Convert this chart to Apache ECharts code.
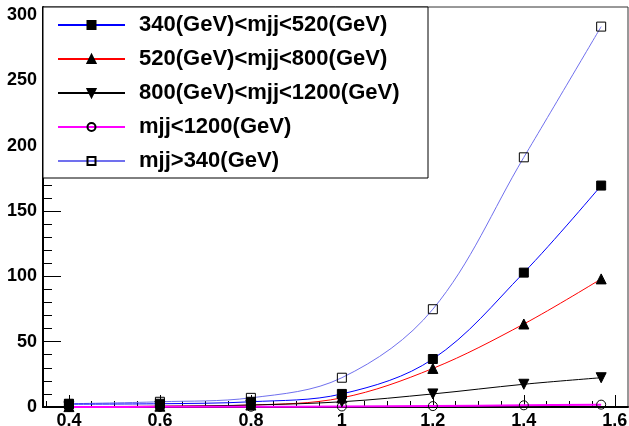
<!DOCTYPE html>
<html>
<head>
<meta charset="utf-8">
<script src="https://cdn.jsdelivr.net/npm/echarts@6/dist/echarts.min.js"></script>
<style>
  html, body { margin: 0; padding: 0; background: #fff; }
  #main { width: 629px; height: 426px; }
</style>
</head>
<body>
<div id="main"></div>
<script>
// x positions of the points
var xVals = [0.4, 0.6, 0.8, 1.0, 1.2, 1.4, 1.57];

// series values
var bin340to520 = [2.2, 2.5, 4, 10, 36.7, 102.8, 169.4];
var bin520to800 = [0.3, 0.6, 1.5, 7, 29.5, 63.5, 98];
var bin800to1200 = [0.2, 0.5, 1.5, 4, 10, 17.4, 22.4];
var binAbove1200 = [0.05, 0.1, 0.2, 0.4, 0.7, 1.3, 1.8];
var binAll = [2.5, 4, 7, 22.4, 74.8, 191, 291];

var names = ['340(GeV)<mjj<520(GeV)', '520(GeV)<mjj<800(GeV)', '800(GeV)<mjj<1200(GeV)', 'mjj<1200(GeV)', 'mjj>340(GeV)'];

// tick positions
var xMajor = [0.4, 0.6, 0.8, 1.0, 1.2, 1.4, 1.6];
var xMinor = [0.35, 0.45, 0.5, 0.55, 0.65, 0.7, 0.75, 0.85, 0.9, 0.95, 1.05, 1.1, 1.15, 1.25, 1.3, 1.35, 1.45, 1.5, 1.55, 1.6];
var yMajor = [0, 50, 100, 150, 200, 250, 300];
var yMinor = [10, 20, 30, 40, 60, 70, 80, 90, 110, 120, 130, 140, 160, 170, 180, 190, 210, 220, 230, 240, 260, 270, 280, 290];

var pairs = function (ys) {
    var res = [];
    ys.forEach(function (y, i) {
        res.push([xVals[i], y]);
    });
    return res;
};

var font = '"Liberation Sans", Arial, sans-serif';
var xMin = 0.343, xMax = 1.629, yMin = 0, yMax = 306;

var chart = echarts.init(document.getElementById('main'));

var mkSeries = function (name, data, lineColor, symbol, symColor, size, rotate, width) {
    return {
        name: name,
        type: 'line',
        data: pairs(data),
        smooth: 0.35,
        symbol: symbol,
        symbolSize: size,
        symbolRotate: rotate || 0,
        showAllSymbol: true,
        lineStyle: { color: lineColor, width: width || 1 },
        itemStyle: { color: symColor, borderColor: '#000', borderWidth: 1 },
        emphasis: { disabled: true },
        animation: false
    };
};

var option = {
    animation: false,
    backgroundColor: '#fff',
    grid: [
        { left: 43, right: 1, top: 7, bottom: 19, outerBoundsMode: 'none', containLabel: false, show: true, borderColor: '#333', borderWidth: 1, backgroundColor: '#fff' },
        { left: 43, right: 1, top: 7, bottom: 19, outerBoundsMode: 'none', containLabel: false, show: false }
    ],
    xAxis: [{
        type: 'value', gridIndex: 0, min: xMin, max: xMax,
        axisLine: { show: true, onZero: false, lineStyle: { color: '#000', width: 2 } },
        axisTick: { show: true, inside: true, length: 12, customValues: xMajor, lineStyle: { color: '#000' } },
        axisLabel: { customValues: xMajor, color: '#000', fontFamily: font, fontWeight: 'bold', fontSize: 18, margin: 5 },
        splitLine: { show: false }
    }, {
        type: 'value', gridIndex: 1, min: xMin, max: xMax,
        axisLine: { show: false },
        axisTick: { show: true, inside: true, length: 6, customValues: xMinor, lineStyle: { color: '#000' } },
        axisLabel: { show: false },
        splitLine: { show: false }
    }],
    yAxis: [{
        type: 'value', gridIndex: 0, min: yMin, max: yMax,
        axisLine: { show: true, onZero: false, lineStyle: { color: '#000', width: 2 } },
        axisTick: { show: true, inside: true, length: 18, customValues: yMajor, lineStyle: { color: '#000' } },
        axisLabel: { customValues: yMajor, color: '#000', fontFamily: font, fontWeight: 'bold', fontSize: 18, margin: 6 },
        splitLine: { show: false }
    }, {
        type: 'value', gridIndex: 1, min: yMin, max: yMax,
        axisLine: { show: false },
        axisTick: { show: true, inside: true, length: 9, customValues: yMinor, lineStyle: { color: '#000' } },
        axisLabel: { show: false },
        splitLine: { show: false }
    }],
    legend: {
        orient: 'vertical',
        left: 57,
        top: 13,
        padding: 0,
        itemWidth: 67,
        itemHeight: 10,
        itemGap: 10,
        z: 10,
        selectedMode: false,
        textStyle: { color: '#000', fontFamily: font, fontWeight: 'bold', fontSize: 22, lineHeight: 24, padding: [0, 0, 0, 9] },
        data: names
    },
    graphic: [{
        type: 'rect',
        z: 9,
        shape: { x: 43, y: 7, width: 385, height: 171 },
        style: { fill: '#fff', stroke: '#000', lineWidth: 1 }
    }],
    series: [
        mkSeries(names[4], binAll, '#7070ee', 'rect', 'rgba(0,0,0,0)', 9),
        mkSeries(names[0], bin340to520, '#0000ff', 'rect', '#000', 9),
        mkSeries(names[1], bin520to800, '#ff0000', 'triangle', '#000', 10),
        mkSeries(names[2], bin800to1200, '#000000', 'triangle', '#000', 10, 180),
        mkSeries(names[3], binAbove1200, '#ff00ff', 'circle', 'rgba(0,0,0,0)', 9, 0, 2)
    ]
};

chart.setOption(option);
</script>
</body>
</html>
